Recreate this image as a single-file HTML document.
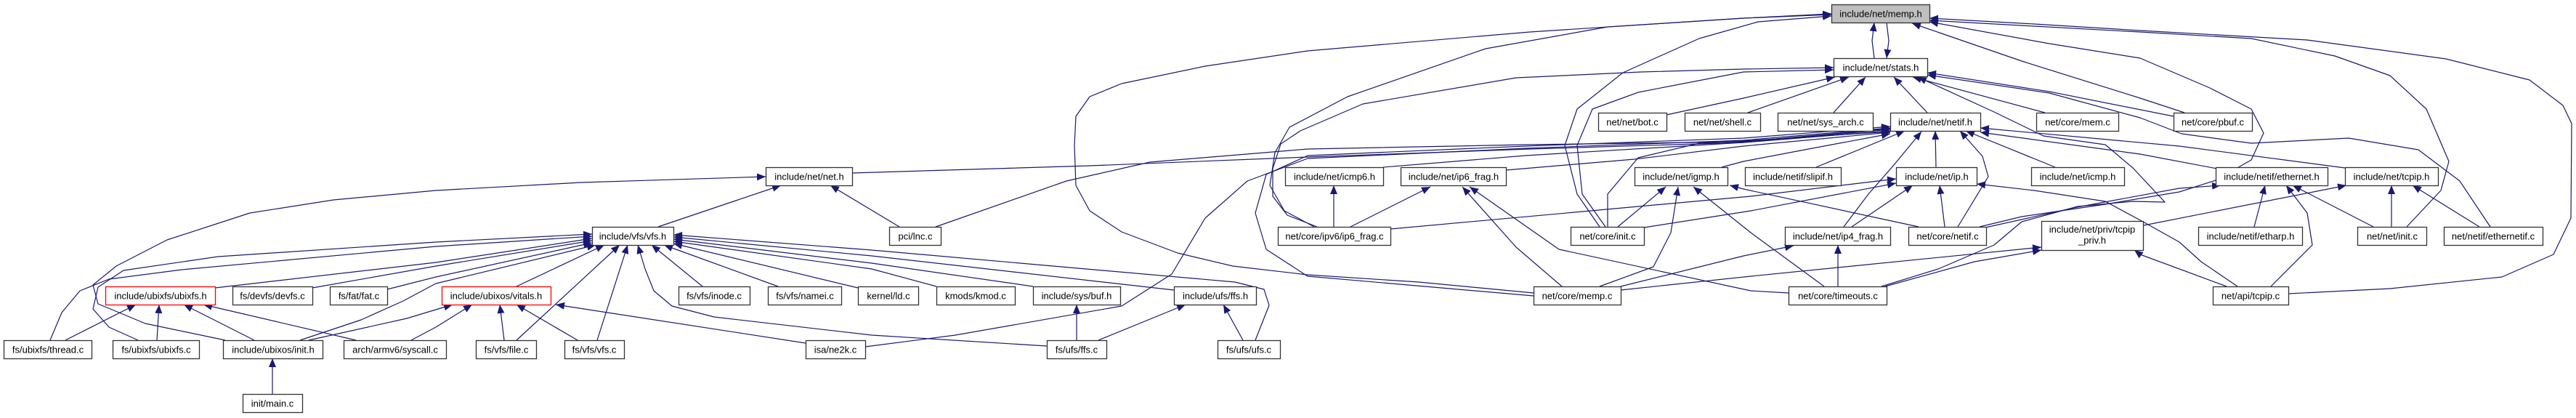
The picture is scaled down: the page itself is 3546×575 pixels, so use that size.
<!DOCTYPE html>
<html><head><meta charset="utf-8"><style>
html,body{margin:0;padding:0;background:#fff;}
svg{display:block;}
text{font-family:"Liberation Sans",Arial,sans-serif;font-size:13px;fill:#000;text-anchor:middle;}
.b{fill:#fff;stroke:#333;stroke-width:1.3;}
.r{fill:#fff;stroke:#ff0000;stroke-width:1.3;}
.g{fill:#bfbfbf;stroke:#333;stroke-width:1.3;}
</style></head><body>
<svg width="3546" height="575" viewBox="0 0 3546 575" xmlns="http://www.w3.org/2000/svg">
<defs>
<marker id="a" markerWidth="12" markerHeight="10" refX="12" refY="5" orient="auto" markerUnits="userSpaceOnUse">
<path d="M0,0 L12,5 L0,10 z" fill="#191970"/>
</marker>
</defs>
<rect width="3546" height="575" fill="#fff"/>
<g fill="none" stroke="#191970" stroke-width="1.2" stroke-linejoin="round" marker-end="url(#a)">
<!-- memp.h -->
<polyline points="2580,80 2577,56 2580,31"/>
<polyline points="2597,31 2600,56 2597,80"/>
<polyline points="2111,403 1953,388 1800,378 1697,366 1621,348 1544,319 1500,290 1481,255 1479,200 1481,160 1500,133 1544,115 1659,91 1800,70 2106,44 2400,25 2521,19"/>
<polyline points="2202,312 2171,267 2154,200 2171,150 2234,100 2339,53 2420,30 2521,22"/>
<polyline points="1809,312 1768,290 1748,255 1755,210 1775,175 1855,133 2045,67 2213,37 2400,25 2521,20"/>
<polyline points="3150,404 3290,397 3444,381 3515,350 3539,300 3540,170 3528,145 3482,110 3367,81 3176,55 2946,42 2800,33 2656,25"/>
<polyline points="3313,312 3360,262 3371,222 3340,150 3290,104 3214,77 3099,53 2946,44 2800,36 2656,28"/>
<polyline points="3007,155 2946,135 2783,84 2632,32"/>
<polyline points="2725,312 2783,298 2898,281 3000,264 3050,248 3099,220 3116,183 3099,150 3042,121 2946,80 2821,60 2656,30"/>
<!-- stats.h -->
<polyline points="2294,158 2400,135 2526,106"/>
<polyline points="2406,155 2545,106"/>
<polyline points="2524,155 2568,106"/>
<polyline points="2653,155 2607,106"/>
<polyline points="2815,155 2633,106"/>
<polyline points="2992,160 2821,126 2653,100"/>
<polyline points="3428,312 3386,249 3329,206 3233,190 3099,197 3003,184 2946,162 2821,128 2653,103"/>
<polyline points="2590,394 2668,370 2745,337 2783,305 2860,284 2936,277 2980,278 2936,231 2898,199 2813,187 2745,154 2640,106"/>
<polyline points="1813,312 1772,296 1752,270 1752,232 1763,198 1790,180 1876,143 2087,107 2259,99 2400,95 2524,93"/>
<polyline points="2210,312 2178,267 2171,200 2192,150 2255,127 2400,99 2524,96"/>
<!-- netif.h -->
<polyline points="1173,238 1500,228 1800,216 2106,205 2400,196 2602,178"/>
<polyline points="1191,477 1315,461 1544,421 1613,377 1659,300 1717,249 1800,218 2100,204 2400,193 2602,176"/>
<polyline points="2111,407 1800,380 1743,343 1728,293 1743,240 1800,214 2100,201 2400,190 2602,174"/>
<polyline points="1904,230 2100,214 2400,196 2602,180"/>
<polyline points="2073,234 2250,219 2400,201 2602,182"/>
<polyline points="2213,312 2213,267 2255,217 2339,197 2400,194 2602,181"/>
<polyline points="2370,230 2400,222 2500,203 2602,184"/>
<polyline points="1288,312 1468,249 1583,223 1800,205 2100,199 2400,195 2602,177"/>
<polyline points="2500,230 2622,180"/>
<polyline points="2538,312 2572,267 2607,227 2645,181"/>
<polyline points="2665,230 2664,180"/>
<polyline points="2695,312 2737,243 2729,215 2698,180"/>
<polyline points="2829,230 2706,180"/>
<polyline points="3228,231 3000,201 2726,176"/>
<polyline points="3052,232 2946,212 2726,182"/>
<!-- net.h -->
<polyline points="310,468 200,445 135,418 128,392 160,366 230,330 344,293 459,275 600,262 800,251 1054,243"/>
<polyline points="906,312 1075,255"/>
<polyline points="1238,312 1143,255"/>
<!-- vfs.h -->
<polyline points="190,468 150,450 128,425 135,395 170,372 300,353 600,333 815,322"/>
<polyline points="69,468 85,430 110,400 150,384 250,371 600,339 815,325"/>
<polyline points="296,396 600,361 815,328"/>
<polyline points="430,396 600,366 815,331"/>
<polyline points="533,398 600,381 815,334"/>
<polyline points="413,468 497,440 555,414 600,390 820,337"/>
<polyline points="711,394 832,337"/>
<polyline points="711,468 853,337"/>
<polyline points="822,468 864,337"/>
<polyline points="1441,476 1200,461 983,436 925,421 900,400 888,370 878,337"/>
<polyline points="967,394 897,337"/>
<polyline points="1071,394 914,337"/>
<polyline points="1181,396 927,335"/>
<polyline points="1289,394 1200,370 927,332"/>
<polyline points="1422,394 1200,362 927,329"/>
<polyline points="1616,399 1200,352 927,326"/>
<polyline points="1728,468 1747,420 1740,398 1700,388 1200,344 927,323"/>
<!-- vitals.h -->
<polyline points="425,468 560,438 623,419"/>
<polyline points="566,468 600,450 650,419"/>
<polyline points="694,468 688,419"/>
<polyline points="795,468 711,419"/>
<polyline points="1109,472 765,419"/>
<!-- ubixfs.h -->
<polyline points="90,468 187,419"/>
<polyline points="216,468 219,419"/>
<polyline points="350,468 253,419"/>
<polyline points="490,468 280,419"/>
<!-- init.h -->
<polyline points="375,542 375,493"/>
<!-- buf.h / ffs.h -->
<polyline points="1482,468 1482,419"/>
<polyline points="1512,468 1632,419"/>
<polyline points="1711,468 1684,419"/>
<!-- icmp6.h / ip6_frag.h -->
<polyline points="1836,312 1836,255"/>
<polyline points="1859,312 1969,257"/>
<polyline points="2150,394 2087,340 2013,257"/>
<polyline points="2462,403 2410,400 2146,343 2023,257"/>
<!-- igmp.h -->
<polyline points="2227,312 2293,257"/>
<polyline points="2202,394 2276,367 2300,320 2310,257"/>
<polyline points="2511,394 2410,320 2331,257"/>
<polyline points="2641,312 2400,260 2381,255"/>
<!-- ip.h -->
<polyline points="2263,313 2410,290 2610,252"/>
<polyline points="1914,315 2410,270 2610,246"/>
<polyline points="2549,312 2633,255"/>
<polyline points="2677,312 2670,255"/>
<polyline points="3080,394 3030,360 3000,333 2950,305 2898,277 2800,262 2721,253"/>
<!-- ip4_frag.h -->
<polyline points="2530,394 2530,337"/>
<polyline points="2231,394 2400,352 2469,338"/>
<!-- tcpip_priv.h -->
<polyline points="2231,399 2410,380 2810,340"/>
<polyline points="2595,394 2718,360 2810,344"/>
<polyline points="3065,394 2946,350 2938,344"/>
<!-- ethernet.h -->
<polyline points="2733,313 2859,285 3000,259 3057,255"/>
<polyline points="3103,312 3118,255"/>
<polyline points="3267,312 3156,255"/>
<polyline points="3126,394 3183,337 3176,293 3147,255"/>
<!-- tcpip.h -->
<polyline points="2951,310 3230,255"/>
<polyline points="3292,312 3292,255"/>
<polyline points="3413,312 3321,255"/>
</g>

<!-- Nodes -->
<g>
<rect class="g" x="2521.5" y="6.5" width="135" height="25"/><text x="2589" y="23.5">include/net/memp.h</text>
<rect class="b" x="2524.5" y="80.5" width="129" height="25"/><text x="2589" y="97.5">include/net/stats.h</text>

<rect class="b" x="2200.5" y="155.5" width="94" height="25"/><text x="2247" y="172.5">net/net/bot.c</text>
<rect class="b" x="2319.5" y="155.5" width="104" height="25"/><text x="2371" y="172.5">net/net/shell.c</text>
<rect class="b" x="2447.5" y="155.5" width="131" height="25"/><text x="2513" y="172.5">net/net/sys_arch.c</text>
<rect class="b" x="2602.5" y="155.5" width="124" height="25"/><text x="2664" y="172.5">include/net/netif.h</text>
<rect class="b" x="2803.5" y="155.5" width="113" height="25"/><text x="2860" y="172.5">net/core/mem.c</text>
<rect class="b" x="2992.5" y="155.5" width="108" height="25"/><text x="3046" y="172.5">net/core/pbuf.c</text>

<rect class="b" x="1054.5" y="230.5" width="119" height="25"/><text x="1114" y="247.5">include/net/net.h</text>
<rect class="b" x="1769.5" y="230.5" width="135" height="25"/><text x="1837" y="247.5">include/net/icmp6.h</text>
<rect class="b" x="1928.5" y="230.5" width="145" height="25"/><text x="2001" y="247.5">include/net/ip6_frag.h</text>
<rect class="b" x="2250.5" y="230.5" width="128" height="25"/><text x="2314" y="247.5">include/net/igmp.h</text>
<rect class="b" x="2402.5" y="230.5" width="132" height="25"/><text x="2468" y="247.5">include/netif/slipif.h</text>
<rect class="b" x="2610.5" y="230.5" width="111" height="25"/><text x="2666" y="247.5">include/net/ip.h</text>
<rect class="b" x="2796.5" y="230.5" width="128" height="25"/><text x="2860" y="247.5">include/net/icmp.h</text>
<rect class="b" x="3050.5" y="230.5" width="154" height="25"/><text x="3127" y="247.5">include/netif/ethernet.h</text>
<rect class="b" x="3228.5" y="230.5" width="128" height="25"/><text x="3292" y="247.5">include/net/tcpip.h</text>

<rect class="b" x="815.5" y="312.5" width="112" height="25"/><text x="871" y="329.5">include/vfs/vfs.h</text>
<rect class="b" x="1224.5" y="312.5" width="71" height="25"/><text x="1260" y="329.5">pci/lnc.c</text>
<rect class="b" x="1759.5" y="312.5" width="155" height="25"/><text x="1837" y="329.5">net/core/ipv6/ip6_frag.c</text>
<rect class="b" x="2162.5" y="312.5" width="101" height="25"/><text x="2213" y="329.5">net/core/init.c</text>
<rect class="b" x="2457.5" y="312.5" width="145" height="25"/><text x="2530" y="329.5">include/net/ip4_frag.h</text>
<rect class="b" x="2627.5" y="312.5" width="107" height="25"/><text x="2681" y="329.5">net/core/netif.c</text>
<rect class="b" x="2810.5" y="304.5" width="140" height="40"/><text x="2880" y="320">include/net/priv/tcpip</text><text x="2880" y="335">_priv.h</text>
<rect class="b" x="3026.5" y="312.5" width="143" height="25"/><text x="3098" y="329.5">include/netif/etharp.h</text>
<rect class="b" x="3245.5" y="312.5" width="95" height="25"/><text x="3293" y="329.5">net/net/init.c</text>
<rect class="b" x="3364.5" y="312.5" width="136" height="25"/><text x="3432" y="329.5">net/netif/ethernetif.c</text>

<rect class="r" x="145.5" y="394.5" width="151" height="25"/><text x="221" y="411.5">include/ubixfs/ubixfs.h</text>
<rect class="b" x="320.5" y="394.5" width="110" height="25"/><text x="375" y="411.5">fs/devfs/devfs.c</text>
<rect class="b" x="454.5" y="394.5" width="79" height="25"/><text x="494" y="411.5">fs/fat/fat.c</text>
<rect class="r" x="608.5" y="394.5" width="150" height="25"/><text x="683" y="411.5">include/ubixos/vitals.h</text>
<rect class="b" x="934.5" y="394.5" width="98" height="25"/><text x="983" y="411.5">fs/vfs/inode.c</text>
<rect class="b" x="1057.5" y="394.5" width="101" height="25"/><text x="1108" y="411.5">fs/vfs/namei.c</text>
<rect class="b" x="1181.5" y="394.5" width="83" height="25"/><text x="1223" y="411.5">kernel/ld.c</text>
<rect class="b" x="1289.5" y="394.5" width="108" height="25"/><text x="1343" y="411.5">kmods/kmod.c</text>
<rect class="b" x="1422.5" y="394.5" width="120" height="25"/><text x="1482" y="411.5">include/sys/buf.h</text>
<rect class="b" x="1616.5" y="394.5" width="113" height="25"/><text x="1673" y="411.5">include/ufs/ffs.h</text>
<rect class="b" x="2111.5" y="394.5" width="120" height="25"/><text x="2171" y="411.5">net/core/memp.c</text>
<rect class="b" x="2462.5" y="394.5" width="135" height="25"/><text x="2530" y="411.5">net/core/timeouts.c</text>
<rect class="b" x="3046.5" y="394.5" width="104" height="25"/><text x="3098" y="411.5">net/api/tcpip.c</text>

<rect class="b" x="5.5" y="468.5" width="121" height="25"/><text x="66" y="485.5">fs/ubixfs/thread.c</text>
<rect class="b" x="155.5" y="468.5" width="119" height="25"/><text x="215" y="485.5">fs/ubixfs/ubixfs.c</text>
<rect class="b" x="307.5" y="468.5" width="137" height="25"/><text x="376" y="485.5">include/ubixos/init.h</text>
<rect class="b" x="473.5" y="468.5" width="141" height="25"/><text x="544" y="485.5">arch/armv6/syscall.c</text>
<rect class="b" x="655.5" y="468.5" width="83" height="25"/><text x="697" y="485.5">fs/vfs/file.c</text>
<rect class="b" x="777.5" y="468.5" width="82" height="25"/><text x="818" y="485.5">fs/vfs/vfs.c</text>
<rect class="b" x="1109.5" y="468.5" width="82" height="25"/><text x="1150" y="485.5">isa/ne2k.c</text>
<rect class="b" x="1441.5" y="468.5" width="82" height="25"/><text x="1482" y="485.5">fs/ufs/ffs.c</text>
<rect class="b" x="1676.5" y="468.5" width="86" height="25"/><text x="1719" y="485.5">fs/ufs/ufs.c</text>

<rect class="b" x="334.5" y="542.5" width="82" height="25"/><text x="375" y="559.5">init/main.c</text>
</g>
</svg>
</body></html>
